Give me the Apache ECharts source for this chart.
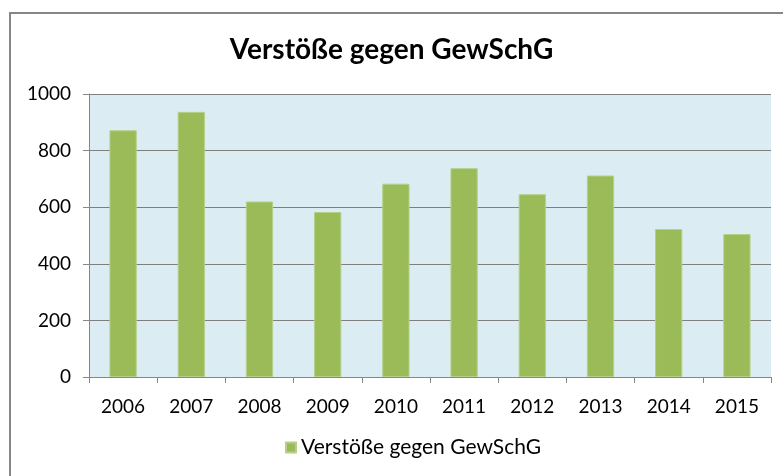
<!DOCTYPE html>
<html>
<head>
    <meta charset="utf-8">
    <title>Verstöße gegen GewSchG</title>
    <script src="https://cdn.jsdelivr.net/npm/echarts@6/dist/echarts.min.js"></script>
    <style>
        html, body { margin: 0; padding: 0; background: #fff; }
        #chart { width: 783px; height: 476px; }
    </style>
</head>
<body>
<div id="chart"></div>
<script>
    var years = ['2006', '2007', '2008', '2009', '2010', '2011', '2012', '2013', '2014', '2015'];
    var verstoesse = [872, 937, 620, 583, 683, 738, 646, 712, 523, 505];
    var seriesName = 'Verstöße gegen GewSchG';

    var chart = echarts.init(document.getElementById('chart'));
    var font = 'Lato, "Open Sans", sans-serif';

    chart.setOption({
        backgroundColor: '#ffffff',
        animation: false,
        textStyle: { fontFamily: font },
        title: {
            text: 'Verstöße gegen GewSchG',
            left: 'center',
            top: 31,
            textStyle: { fontSize: 28, fontWeight: 'bold', color: '#000', fontFamily: font }
        },
        graphic: [{
            type: 'rect',
            shape: { x: 10, y: 13, width: 800, height: 500 },
            style: { fill: 'none', stroke: '#868686', lineWidth: 2 },
            silent: true
        }],
        legend: {
            bottom: 13,
            left: 280,
            itemWidth: 10,
            itemHeight: 10,
            itemGap: 8,
            icon: 'rect',
            textStyle: { fontSize: 21, color: '#000', fontFamily: font },
            data: [seriesName]
        },
        grid: {
            left: 89,
            right: 12,
            top: 94,
            bottom: 99,
            show: true,
            backgroundColor: '#dbedf3',
            borderWidth: 0
        },
        xAxis: {
            type: 'category',
            data: years,
            axisLine: { lineStyle: { color: '#868686', width: 1 } },
            axisTick: { show: true, length: 6, lineStyle: { color: '#868686' } },
            axisLabel: { fontSize: 19, color: '#000', margin: 20 }
        },
        yAxis: {
            type: 'value',
            min: 0,
            max: 1000,
            interval: 200,
            axisLine: { show: true, lineStyle: { color: '#868686', width: 1 } },
            axisTick: { show: true, length: 6, lineStyle: { color: '#868686' } },
            axisLabel: { fontSize: 19, color: '#000', margin: 18, formatter: function (v) { return String(v); } },
            splitLine: { lineStyle: { color: '#7f7f7f', width: 1 } }
        },
        series: [{
            name: seriesName,
            type: 'bar',
            data: verstoesse,
            barWidth: '40%',
            itemStyle: { color: '#9bbb59', borderColor: '#b5d08a', borderWidth: 1 }
        }]
    });
</script>
</body>
</html>
